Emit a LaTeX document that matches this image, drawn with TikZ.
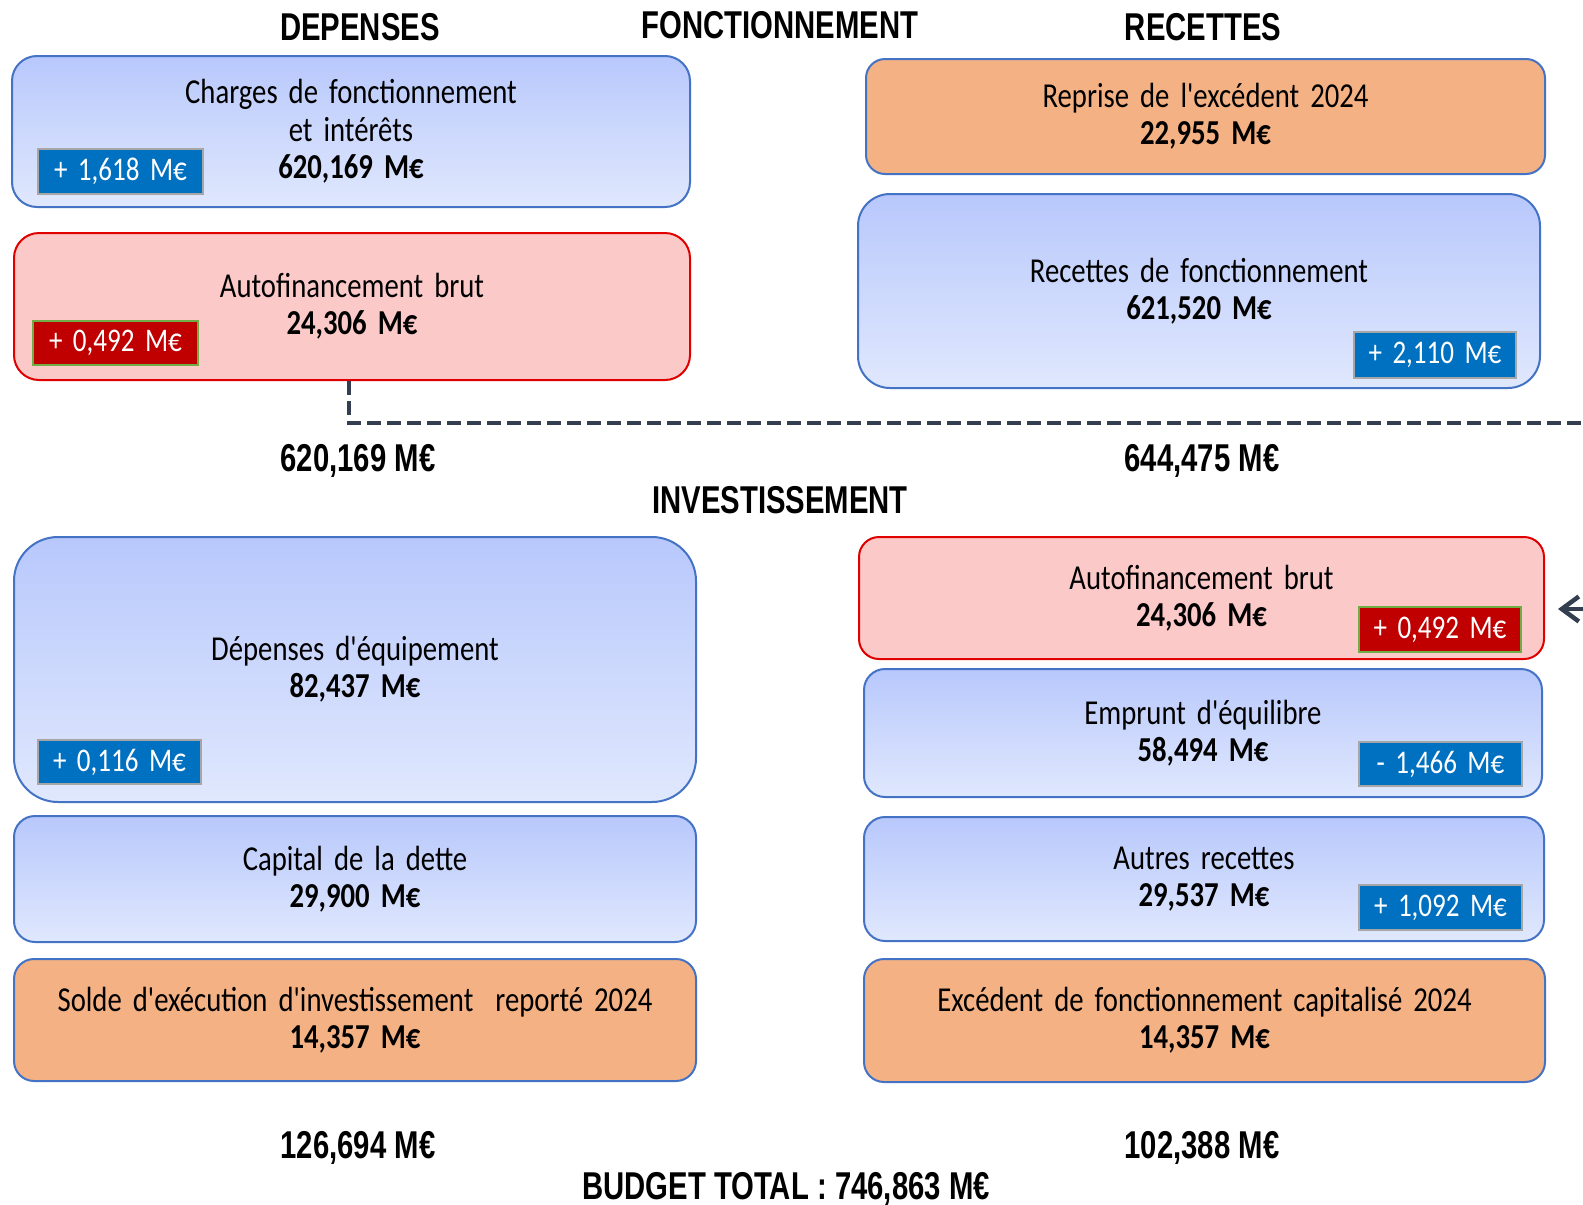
\documentclass[tikz,border=0pt]{standalone}
\usepackage{fontspec}
\setmainfont{Carlito}
\newfontfamily\boxfam[FakeStretch=0.82, WordSpace=2.2, Ligatures=TeXOff]{Carlito}
\newfontfamily\badgefam[FakeStretch=0.82, WordSpace=1.7, Ligatures=TeXOff]{Carlito}
\newfontfamily\headfam[FakeStretch=0.755]{Liberation Sans}
\usetikzlibrary{arrows.meta}
\definecolor{bluetop}{HTML}{B8C8FC}
\definecolor{bluebot}{HTML}{E0E8FD}
\definecolor{blueline}{HTML}{4472C4}
\definecolor{pinkfill}{HTML}{FCC9C9}
\definecolor{redline}{HTML}{E00000}
\definecolor{orangefill}{HTML}{F4B183}
\definecolor{badgeblue}{HTML}{0070C0}
\definecolor{badgered}{HTML}{C00000}
\definecolor{badgegreen}{HTML}{70AD47}
\definecolor{badgegray}{HTML}{A6A6A6}
\definecolor{dashcol}{HTML}{333F50}
\tikzset{
  box/.style={draw=blueline, line width=2pt, align=center, inner sep=0pt, text=black,
    font=\boxfam\fontsize{35}{37.3}\selectfont},
  sz/.style n args={3}{minimum width=#1pt, minimum height=#2pt, rounded corners=#3pt},
  bluebox/.style={box, top color=bluetop, bottom color=bluebot},
  pinkbox/.style={box, draw=redline, fill=pinkfill},
  orangebox/.style={box, fill=orangefill},
  badge/.style={font=\badgefam\fontsize{33}{33}\selectfont, text=white, inner sep=0pt, line width=2pt},
  bluebadge/.style={badge, fill=badgeblue, draw=badgegray},
  redbadge/.style={badge, fill=badgered, draw=badgegreen},
  bsz/.style n args={2}{minimum width=#1pt, minimum height=#2pt},
  head/.style={font=\headfam\bfseries\fontsize{38.8}{40}\selectfont, anchor=base, inner sep=0pt},
  conn/.style={draw=dashcol, line width=4.5pt},
}
\begin{document}
\lineskiplimit=-100pt
\begin{tikzpicture}[x=1pt,y=-1pt]
\useasboundingbox (0,0) rectangle (1583,1205);
\clip (0,0) rectangle (1583,1205);
\fill[white] (0,0) rectangle (1583,1205);

% headings
\node[head] (hDep) at (360,40) {DEPENSES};
\node[head] (hFon) at (780,38) {FONCTIONNEMENT};
\node[head] (hRec) at (1203,40) {RECETTES};
\node[head] (tFonD) at (358,471) {620,169 M€};
\node[head] (tFonR) at (1202,471) {644,475 M€};
\node[head] (hInv) at (780,513) {INVESTISSEMENT};
\node[head] (tInvD) at (358,1158) {126,694 M€};
\node[head] (tInvR) at (1202,1158) {102,388 M€};
\node[head] (tot) at (786,1199) {BUDGET TOTAL : 746,863 M€};

% fonctionnement boxes
\node[bluebox, sz={678}{151}{25}] (chg) at (351,131.5) {Charges de fonctionnement\\et intérêts\\\textbf{620,169 M€}};
\node[pinkbox, sz={676}{147}{25}] (afL) at (352,306.5) {Autofinancement brut\\\textbf{24,306 M€}};
\node[orangebox, sz={679}{115}{19}] (rep) at (1205.5,116.5) {Reprise de l'excédent 2024\\\textbf{22,955 M€}};
\node[bluebox, sz={682}{194}{32}] (recF) at (1199,291) {Recettes de fonctionnement\\\textbf{621,520 M€}};

% investissement boxes
\node[bluebox, sz={682}{265}{44}] (dep) at (355,669.5) {Dépenses d'équipement\\\textbf{82,437 M€}};
\node[bluebox, sz={682}{126}{21}] (cap) at (355,879) {Capital de la dette\\\textbf{29,900 M€}};
\node[orangebox, sz={682}{122}{20}] (sol) at (355,1020) {Solde d'exécution d'investissement\ \ reporté 2024\\\textbf{14,357 M€}};
\node[pinkbox, sz={685}{122}{20}] (afR) at (1201.5,598) {Autofinancement brut\\\textbf{24,306 M€}};
\node[bluebox, sz={678}{128}{21}] (emp) at (1203,733) {Emprunt d'équilibre\\\textbf{58,494 M€}};
\node[bluebox, sz={680}{124}{21}] (aut) at (1204,879) {Autres recettes\\\textbf{29,537 M€}};
\node[orangebox, sz={681}{123}{20}] (exc) at (1204.5,1020.5) {Excédent de fonctionnement capitalisé 2024\\\textbf{14,357 M€}};

% badges
\node[bluebadge, bsz={165}{45}] (b1) at (120.5,171.5) {+ 1,618 M€};
\node[redbadge, bsz={165}{44}] (b2) at (115.5,343) {+ 0,492 M€};
\node[bluebadge, bsz={162}{46}] (b3) at (1435,355) {+ 2,110 M€};
\node[redbadge, bsz={162}{45}] (b4) at (1440,629.5) {+ 0,492 M€};
\node[bluebadge, bsz={163}{44}] (b5) at (1440.5,764) {- 1,466 M€};
\node[bluebadge, bsz={163}{45}] (b6) at (1440.5,907.5) {+ 1,092 M€};
\node[bluebadge, bsz={163}{44}] (b7) at (119.5,762) {+ 0,116 M€};

% connectors
\coordinate (outR) at (1583,423);
\coordinate (inR) at (1583,609);
\draw[conn, dash pattern=on 14pt off 6pt] ([xshift=-3pt]afL.south) |- (outR);
\draw[conn, line cap=round, -{Straight Barb[length=17pt,width=25pt]}, shorten >=13pt] (inR) -- (afR.east |- inR);
\end{tikzpicture}
\end{document}
